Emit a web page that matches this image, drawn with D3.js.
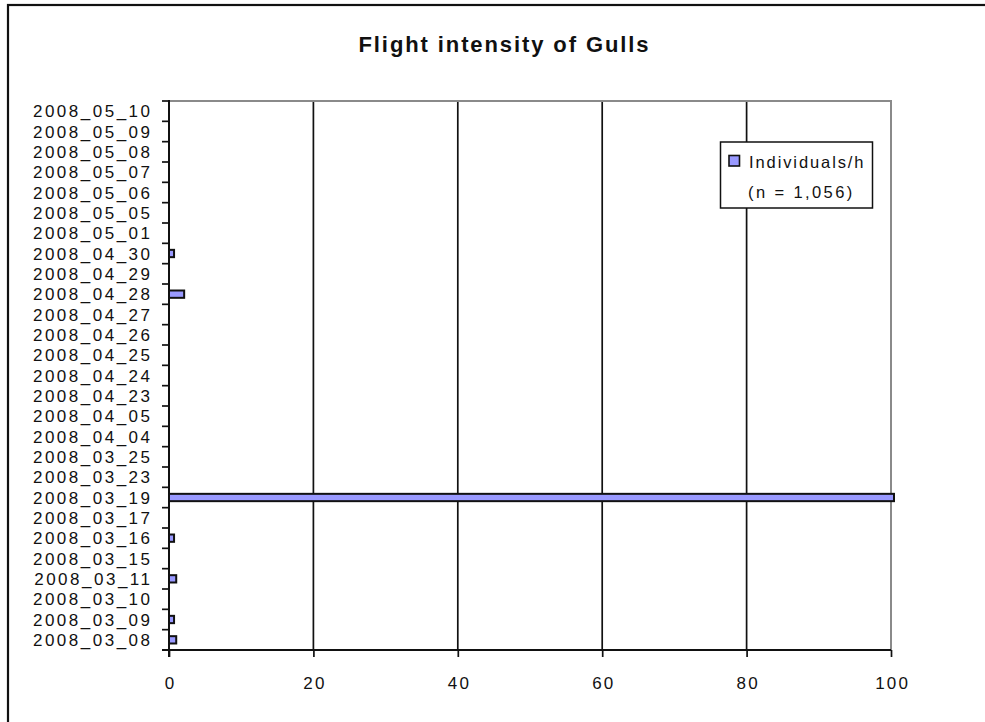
<!DOCTYPE html>
<html>
<head>
<meta charset="utf-8">
<script src="https://cdn.jsdelivr.net/npm/d3@7"></script>
<style>
  html, body { margin: 0; padding: 0; background: #fff; }
  svg { display: block; }
  text { font-family: "Liberation Sans", Arial, sans-serif; fill: #111; }
</style>
</head>
<body>
<script>
// Survey dates (chronological; the first one sits at the bottom of the axis)
const categories = [
  "2008_03_08", "2008_03_09", "2008_03_10", "2008_03_11", "2008_03_15",
  "2008_03_16", "2008_03_17", "2008_03_19", "2008_03_23", "2008_03_25",
  "2008_04_04", "2008_04_05", "2008_04_23", "2008_04_24", "2008_04_25",
  "2008_04_26", "2008_04_27", "2008_04_28", "2008_04_29", "2008_04_30",
  "2008_05_01", "2008_05_05", "2008_05_06", "2008_05_07", "2008_05_08",
  "2008_05_09", "2008_05_10"
];
// Gull flight intensity, individuals per hour (2008_03_19 runs past the axis maximum)
const individualsPerHour = [
  1.0, 0.7, 0, 1.0, 0,
  0.7, 0, 130, 0, 0,
  0, 0, 0, 0, 0,
  0, 0, 2.1, 0, 0.7,
  0, 0, 0, 0, 0,
  0, 0
];
const xTicks = [0, 20, 40, 60, 80, 100];
const seriesName = "Individuals/h";
const sampleNote = "(n = 1,056)";
const chartTitle = "Flight intensity of Gulls";

const W = 985, H = 722;
const plot = { left: 169, right: 891, top: 101, bottom: 650 };

const svg = d3.select("body").append("svg")
  .attr("width", W).attr("height", H);

// outer chart frame (runs off the right and bottom edges)
svg.append("rect")
  .attr("x", 8).attr("y", 5).attr("width", 1200).attr("height", 1200)
  .attr("fill", "#fff").attr("stroke", "#111").attr("stroke-width", 2.2);

const x = d3.scaleLinear().domain([0, 100]).range([plot.left, plot.right]).clamp(true);
const y = d3.scaleBand().domain(categories).range([plot.bottom, plot.top]).padding(0);
const barFrac = 0.36;

// vertical gridlines
svg.append("g").selectAll("line")
  .data(xTicks.filter(t => t > 0 && t < 100))
  .join("line")
  .attr("x1", d => x(d)).attr("x2", d => x(d))
  .attr("y1", plot.top).attr("y2", plot.bottom)
  .attr("stroke", "#111").attr("stroke-width", 1.7);

// plot-area border (top and right in grey)
svg.append("path")
  .attr("d", `M${plot.left},${plot.top}H${plot.right}V${plot.bottom}`)
  .attr("fill", "none").attr("stroke", "#8a8a8a").attr("stroke-width", 2);

// bars (the off-scale bar is let run a few pixels past the frame)
svg.append("g").selectAll("rect")
  .data(categories.map((c, i) => ({ c, v: individualsPerHour[i] })).filter(d => d.v > 0))
  .join("rect")
  .attr("x", x(0))
  .attr("y", d => y(d.c) + y.bandwidth() * (1 - barFrac) / 2)
  .attr("width", d => x(d.v) - x(0) + (d.v > 100 ? 3 : 0))
  .attr("height", y.bandwidth() * barFrac)
  .attr("fill", "#9999ff").attr("stroke", "#111").attr("stroke-width", 2);

// x axis
const xAxis = svg.append("g")
  .attr("transform", `translate(0,${plot.bottom})`)
  .call(d3.axisBottom(x).tickValues(xTicks).tickSize(7).tickPadding(24).tickFormat(d3.format("d")));
xAxis.select(".domain").remove();
xAxis.selectAll(".tick line").attr("stroke", "#111").attr("stroke-width", 1.7);
xAxis.selectAll(".tick text")
  .attr("font-size", 17).attr("letter-spacing", 2.2)
  .attr("dx", 1.1).attr("dy", 0).attr("y", 39)
  .style("font-family", "'Liberation Sans', Arial, sans-serif");

// y axis labels (centred on each band)
const yAxis = svg.append("g")
  .attr("transform", `translate(${plot.left},0)`)
  .call(d3.axisLeft(y).tickSize(0).tickPadding(0));
yAxis.select(".domain").remove();
yAxis.selectAll(".tick text")
  .attr("x", 150 - plot.left + 2.5)
  .attr("font-size", 17).attr("letter-spacing", 2.5)
  .attr("dy", "0.36em")
  .style("font-family", "'Liberation Sans', Arial, sans-serif");

// y tick marks sit between categories
const bounds = categories.map(c => y(c)).concat([y(categories[0]) + y.step()]);
svg.append("g").selectAll("line")
  .data(bounds)
  .join("line")
  .attr("x1", plot.left - 7).attr("x2", plot.left)
  .attr("y1", d => d).attr("y2", d => d)
  .attr("stroke", "#111").attr("stroke-width", 1.7);

// axis lines
svg.append("line")
  .attr("x1", plot.left).attr("x2", plot.left)
  .attr("y1", plot.top - 1).attr("y2", plot.bottom + 7)
  .attr("stroke", "#111").attr("stroke-width", 2);
svg.append("line")
  .attr("x1", plot.left - 7).attr("x2", plot.right)
  .attr("y1", plot.bottom).attr("y2", plot.bottom)
  .attr("stroke", "#111").attr("stroke-width", 2);

// title
svg.append("text")
  .attr("x", 503.5 + 1).attr("y", 52)
  .attr("text-anchor", "middle")
  .attr("font-size", 22).attr("font-weight", "bold").attr("letter-spacing", 1.9)
  .text(chartTitle);

// legend
const lg = svg.append("g");
lg.append("rect")
  .attr("x", 720.5).attr("y", 142).attr("width", 152).attr("height", 66)
  .attr("fill", "#fff").attr("stroke", "#111").attr("stroke-width", 1.5);
lg.append("rect")
  .attr("x", 729).attr("y", 155.5).attr("width", 10.5).attr("height", 10.5)
  .attr("fill", "#9999ff").attr("stroke", "#111").attr("stroke-width", 1.6);
lg.append("text")
  .attr("x", 749).attr("y", 167.5)
  .attr("font-size", 16.5).attr("letter-spacing", 1.9)
  .text(seriesName);
lg.append("text")
  .attr("x", 748).attr("y", 197.5)
  .attr("font-size", 16.5).attr("letter-spacing", 2.4)
  .text(sampleNote);
</script>
</body>
</html>
